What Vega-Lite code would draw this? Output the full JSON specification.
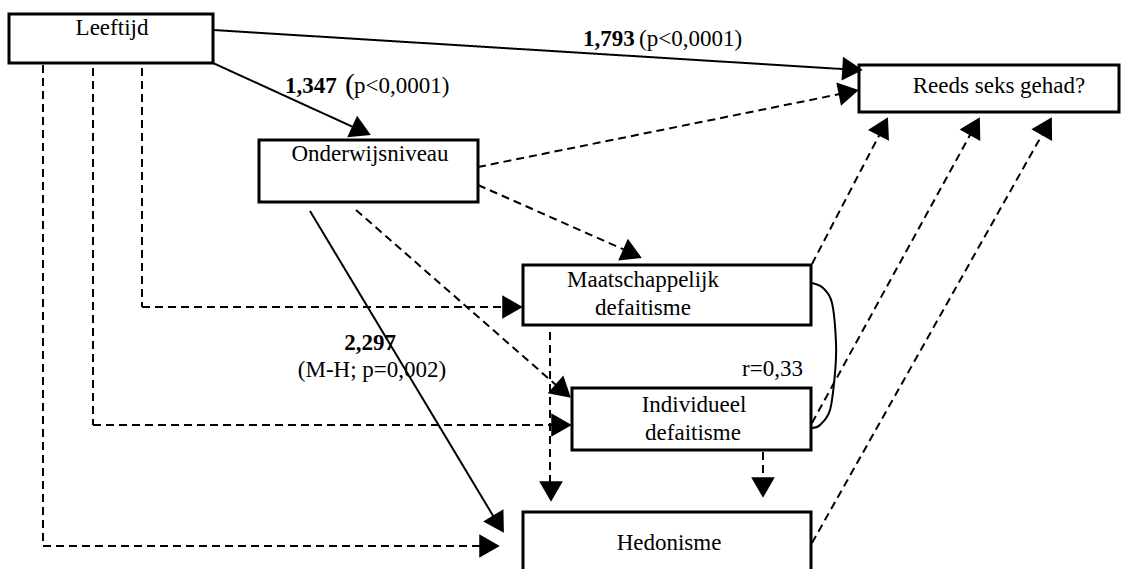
{
  "$schema": "https://vega.github.io/schema/vega-lite/v6.json",
  "width": 1123,
  "height": 569,
  "autosize": {"type": "fit", "contains": "padding"},
  "padding": 0,
  "background": "white",
  "config": {"view": {"stroke": null}},
  "datasets": {
    "boxes": [
      {"name": "Leeftijd", "x": 9, "x2": 213, "y": 14, "y2": 63},
      {"name": "Reeds", "x": 859, "x2": 1119, "y": 65, "y2": 112},
      {"name": "Onderwijsniveau", "x": 259, "x2": 478, "y": 140, "y2": 202},
      {"name": "Maatschappelijk", "x": 523, "x2": 811, "y": 265, "y2": 325},
      {"name": "Individueel", "x": 572, "x2": 811, "y": 388, "y2": 450},
      {"name": "Hedonisme", "x": 523, "x2": 811, "y": 512, "y2": 590}
    ],
    "links": [
      {"kind": "solid", "x": 213, "y": 30, "x2": 858, "y2": 70},
      {"kind": "solid", "x": 213, "y": 63, "x2": 364, "y2": 132},
      {"kind": "solid", "x": 310, "y": 211, "x2": 498, "y2": 524},
      {"kind": "dashed", "x": 478, "y": 167, "x2": 850, "y2": 92},
      {"kind": "dashed", "x": 478, "y": 185, "x2": 634, "y2": 254},
      {"kind": "dashed", "x": 356, "y": 210, "x2": 564, "y2": 392},
      {"kind": "dashed", "x": 142, "y": 68, "x2": 142, "y2": 307},
      {"kind": "dashed", "x": 142, "y": 307, "x2": 512, "y2": 307},
      {"kind": "dashed", "x": 93, "y": 68, "x2": 93, "y2": 425},
      {"kind": "dashed", "x": 93, "y": 425, "x2": 561, "y2": 425},
      {"kind": "dashed", "x": 43, "y": 65, "x2": 43, "y2": 546},
      {"kind": "dashed", "x": 43, "y": 546, "x2": 489, "y2": 546},
      {"kind": "dashed", "x": 550, "y": 332, "x2": 550, "y2": 491},
      {"kind": "dashed", "x": 763, "y": 452, "x2": 763, "y2": 487},
      {"kind": "dashed", "x": 812, "y": 264, "x2": 884, "y2": 126},
      {"kind": "dashed", "x": 812, "y": 423, "x2": 975, "y2": 126},
      {"kind": "dashed", "x": 812, "y": 543, "x2": 1047, "y2": 126}
    ],
    "heads": [
      {"x": 852.5, "y": 69.3, "angle": 93.5},
      {"x": 361.5, "y": 130.7, "angle": 114.5},
      {"x": 498.6, "y": 524.1, "angle": 148.9},
      {"x": 848.7, "y": 92.1, "angle": 78.6},
      {"x": 632.4, "y": 253.8, "angle": 113.9},
      {"x": 563.2, "y": 391.1, "angle": 131.3},
      {"x": 512.5, "y": 307, "angle": 90},
      {"x": 561.5, "y": 425, "angle": 90},
      {"x": 489.5, "y": 546, "angle": 90},
      {"x": 551, "y": 491.5, "angle": 180},
      {"x": 763, "y": 487.5, "angle": 180},
      {"x": 883.2, "y": 126.3, "angle": 27.5},
      {"x": 974.9, "y": 126.2, "angle": 28.8},
      {"x": 1046.8, "y": 126.2, "angle": 29.4}
    ],
    "curve": [
      {"i": 0, "x": 812, "y": 283},
      {"i": 1, "x": 823, "y": 288},
      {"i": 2, "x": 832, "y": 303},
      {"i": 3, "x": 836, "y": 343},
      {"i": 4, "x": 835, "y": 373},
      {"i": 5, "x": 830, "y": 410},
      {"i": 6, "x": 820, "y": 425},
      {"i": 7, "x": 812, "y": 428}
    ],
    "labels": [
      {"t": "Leeftijd", "x": 112, "y": 35},
      {"t": "Reeds seks gehad?", "x": 999, "y": 93},
      {"t": "Onderwijsniveau", "x": 370, "y": 161},
      {"t": "Maatschappelijk", "x": 643, "y": 287},
      {"t": "defaitisme", "x": 643, "y": 315},
      {"t": "Individueel", "x": 694, "y": 412},
      {"t": "defaitisme", "x": 693, "y": 440},
      {"t": "Hedonisme", "x": 669, "y": 550},
      {"t": "(M-H; p=0,002)", "x": 372, "y": 377}
    ],
    "leftLabels": [
      {"t": "(p<0,0001)", "x": 639, "y": 46},
      {"t": "p<0,0001)", "x": 354, "y": 93}
    ],
    "boldLeft": [
      {"t": "1,793", "x": 583, "y": 46},
      {"t": "1,347", "x": 285, "y": 93}
    ],
    "boldCenter": [
      {"t": "2,297", "x": 370, "y": 350}
    ],
    "rightLabels": [
      {"t": "r=0,33", "x": 803, "y": 376}
    ],
    "paren": [
      {"t": "(", "x": 345, "y": 94}
    ]
  },
  "encoding": {
    "x": {"field": "x", "type": "quantitative", "scale": {"domain": [0, 1123], "nice": false, "zero": false}, "axis": null},
    "y": {"field": "y", "type": "quantitative", "scale": {"domain": [0, 569], "nice": false, "zero": false, "reverse": true}, "axis": null}
  },
  "layer": [
    {
      "data": {"name": "links"},
      "mark": {"type": "rule", "color": "black", "strokeWidth": 2},
      "encoding": {
        "x2": {"field": "x2"},
        "y2": {"field": "y2"},
        "strokeDash": {"field": "kind", "type": "nominal", "scale": {"domain": ["solid", "dashed"], "range": [[1, 0], [8, 5]]}, "legend": null}
      }
    },
    {
      "data": {"name": "curve"},
      "mark": {"type": "line", "color": "black", "strokeWidth": 2, "interpolate": "cardinal"},
      "encoding": {"order": {"field": "i", "type": "quantitative"}}
    },
    {
      "data": {"name": "boxes"},
      "mark": {"type": "rect", "fill": "white", "stroke": "black", "strokeWidth": 3, "clip": true},
      "encoding": {
        "x2": {"field": "x2"},
        "y2": {"field": "y2"}
      }
    },
    {
      "data": {"name": "heads"},
      "mark": {"type": "point", "shape": "triangle-up", "filled": true, "color": "black", "size": 560, "opacity": 1, "strokeWidth": 0},
      "encoding": {"angle": {"field": "angle", "type": "quantitative", "scale": null}}
    },
    {
      "data": {"name": "labels"},
      "mark": {"type": "text", "font": "'Liberation Serif', 'Times New Roman', serif", "fontSize": 23, "align": "center", "baseline": "alphabetic", "color": "black"},
      "encoding": {"text": {"field": "t"}}
    },
    {
      "data": {"name": "leftLabels"},
      "mark": {"type": "text", "font": "'Liberation Serif', 'Times New Roman', serif", "fontSize": 23, "align": "left", "baseline": "alphabetic", "color": "black"},
      "encoding": {"text": {"field": "t"}}
    },
    {
      "data": {"name": "boldLeft"},
      "mark": {"type": "text", "font": "'Liberation Serif', 'Times New Roman', serif", "fontSize": 23, "fontWeight": "bold", "align": "left", "baseline": "alphabetic", "color": "black"},
      "encoding": {"text": {"field": "t"}}
    },
    {
      "data": {"name": "boldCenter"},
      "mark": {"type": "text", "font": "'Liberation Serif', 'Times New Roman', serif", "fontSize": 23, "fontWeight": "bold", "align": "center", "baseline": "alphabetic", "color": "black"},
      "encoding": {"text": {"field": "t"}}
    },
    {
      "data": {"name": "rightLabels"},
      "mark": {"type": "text", "font": "'Liberation Serif', 'Times New Roman', serif", "fontSize": 23, "align": "right", "baseline": "alphabetic", "color": "black"},
      "encoding": {"text": {"field": "t"}}
    },
    {
      "data": {"name": "paren"},
      "mark": {"type": "text", "font": "'Liberation Serif', 'Times New Roman', serif", "fontSize": 30, "align": "left", "baseline": "alphabetic", "color": "black"},
      "encoding": {"text": {"field": "t"}}
    }
  ]
}
